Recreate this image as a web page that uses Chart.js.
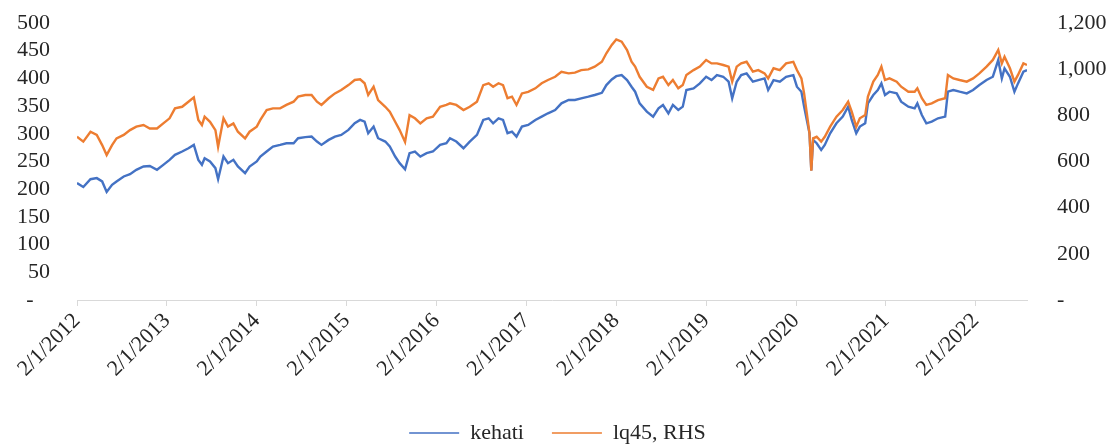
<!DOCTYPE html>
<html>
<head>
<meta charset="utf-8">
<script src="https://cdn.jsdelivr.net/npm/chart.js@4.4.1/dist/chart.umd.min.js"></script>
<style>
  html, body { margin: 0; padding: 0; background: #ffffff; }
  #wrap { width: 1115px; height: 446px; }
</style>
</head>
<body>
<div id="wrap"><canvas id="c" width="1115" height="446"></canvas></div>
<script>
// Trading dates as fractional years (2012.00 = 2/1/2012)
const dates = [
  2012.00, 2012.07, 2012.15, 2012.22, 2012.28, 2012.33, 2012.39, 2012.44, 2012.52, 2012.59,
  2012.66, 2012.74, 2012.81, 2012.89, 2012.96, 2013.03, 2013.09, 2013.17, 2013.24, 2013.30,
  2013.35, 2013.39, 2013.42, 2013.48, 2013.54, 2013.57, 2013.63, 2013.68, 2013.74, 2013.79,
  2013.87, 2013.92, 2014.00, 2014.04, 2014.11, 2014.18, 2014.26, 2014.33, 2014.41, 2014.46,
  2014.54, 2014.61, 2014.67, 2014.72, 2014.80, 2014.87, 2014.94, 2015.02, 2015.09, 2015.15,
  2015.20, 2015.24, 2015.30, 2015.35, 2015.43, 2015.48, 2015.54, 2015.59, 2015.65, 2015.70,
  2015.76, 2015.82, 2015.89, 2015.96, 2016.04, 2016.11, 2016.15, 2016.22, 2016.30, 2016.37,
  2016.45, 2016.52, 2016.58, 2016.63, 2016.69, 2016.74, 2016.79, 2016.84, 2016.89, 2016.95,
  2017.02, 2017.10, 2017.17, 2017.24, 2017.32, 2017.39, 2017.47, 2017.54, 2017.61, 2017.69,
  2017.76, 2017.84, 2017.89, 2017.95, 2018.00, 2018.06, 2018.12, 2018.17, 2018.21, 2018.26,
  2018.34, 2018.41, 2018.47, 2018.52, 2018.58, 2018.63, 2018.69, 2018.74, 2018.78, 2018.86,
  2018.93, 2019.00, 2019.06, 2019.12, 2019.19, 2019.25, 2019.29, 2019.34, 2019.39, 2019.45,
  2019.52, 2019.58, 2019.65, 2019.69, 2019.75, 2019.82, 2019.89, 2019.97, 2020.01, 2020.06,
  2020.09, 2020.12, 2020.15, 2020.17, 2020.19, 2020.23, 2020.28, 2020.32, 2020.38, 2020.45,
  2020.52, 2020.58, 2020.62, 2020.67, 2020.71, 2020.77, 2020.80, 2020.86, 2020.91, 2020.95,
  2020.99, 2021.04, 2021.12, 2021.17, 2021.25, 2021.32, 2021.35, 2021.40, 2021.45, 2021.51,
  2021.58, 2021.66, 2021.69, 2021.75, 2021.82, 2021.90, 2021.97, 2022.04, 2022.12, 2022.19,
  2022.25, 2022.29, 2022.32, 2022.38, 2022.43, 2022.47, 2022.53, 2022.57
];

// KEHATI index (left axis)
const kehati = [
  211, 204, 218, 220, 214, 195, 208, 214, 223, 227,
  235, 241, 242, 235, 244, 253, 262, 268, 274, 280,
  253, 244, 256, 250, 238, 218, 259, 247, 253, 241,
  229, 241, 250, 259, 268, 277, 280, 283, 283, 292,
  294, 295, 286, 280, 289, 295, 298, 307, 319, 325,
  322, 301, 313, 292, 286, 277, 259, 247, 236, 265,
  268, 259, 265, 268, 280, 283, 292, 286, 274, 286,
  298, 325, 328, 319, 328, 325, 301, 304, 295, 313,
  316, 325, 331, 337, 343, 355, 361, 361, 364, 367,
  370, 374, 388, 398, 404, 406, 397, 385, 376, 355,
  340, 331, 346, 352, 337, 352, 343, 349, 379, 382,
  391, 403, 397, 406, 403, 394, 364, 394, 406, 409,
  394, 397, 400, 379, 397, 394, 403, 406, 385, 376,
  349, 325, 301, 234, 289, 283, 271, 280, 301, 319,
  331, 349, 325, 301, 313, 319, 355, 370, 379, 391,
  370, 376, 373, 358, 349, 346, 355, 334, 319, 322,
  328, 331, 376, 379, 376, 373, 379, 388, 397, 403,
  433, 400, 418, 403, 376, 391, 412, 415
];

// LQ45 index (right axis)
const lq45 = [
  707, 686, 729, 715, 671, 628, 671, 700, 715, 736,
  751, 758, 743, 743, 765, 787, 830, 837, 859, 878,
  780, 758, 794, 772, 736, 664, 787, 751, 765, 729,
  700, 729, 751, 780, 823, 830, 830, 845, 859, 881,
  888, 888, 859, 845, 874, 895, 910, 931, 953, 956,
  939, 888, 924, 866, 837, 816, 772, 736, 685, 801,
  787, 765, 787, 794, 837, 845, 852, 845, 823, 837,
  859, 931, 939, 924, 939, 931, 874, 881, 845, 895,
  902, 917, 939, 953, 967, 989, 982, 985, 996, 999,
  1011, 1032, 1069, 1105, 1129, 1119, 1083, 1032, 1011, 967,
  924, 910, 960, 967, 931, 953, 917, 931, 975, 996,
  1011, 1040, 1025, 1025, 1018, 1011, 946, 1011, 1025, 1032,
  989, 996, 982, 960, 1004, 996, 1025, 1032, 996, 960,
  895, 809, 722, 560, 700, 707, 686, 707, 751, 794,
  823, 859, 816, 751, 787, 801, 881, 946, 975, 1011,
  953, 960, 946, 924, 902, 902, 917, 874, 845, 852,
  866, 874, 975, 960, 953, 946, 960, 982, 1011, 1040,
  1083, 1025, 1054, 1004, 946, 975, 1025, 1018
];

// Yearly tick positions on the date axis
const tickYears = [2012, 2013, 2014, 2015, 2016, 2017, 2018, 2019, 2020, 2021, 2022];

const seriesNames = ['kehati', 'lq45, RHS'];
const seriesColors = ['#4472C4', '#ED7D31'];

const FONT = "'Liberation Serif', 'Times New Roman', serif";
const TEXT = '#262626';
const AXIS = '#d9d9d9';

const toPoints = (vals) => dates.map((d, i) => ({ x: d, y: vals[i] }));

// Fixed-width value axis; the wide label gap should not push the plot area down
const fitValueAxis = (width) => (scale) => {
  scale.width = width;
  scale.paddingTop = 0;
  scale.paddingBottom = 0;
};

new Chart(document.getElementById('c'), {
  type: 'line',
  data: {
    datasets: [
      {
        label: seriesNames[0],
        data: toPoints(kehati),
        yAxisID: 'y',
        borderColor: seriesColors[0],
        backgroundColor: seriesColors[0],
        borderWidth: 2.4,
        pointRadius: 0,
        tension: 0,
        order: 1
      },
      {
        label: seriesNames[1],
        data: toPoints(lq45),
        yAxisID: 'y1',
        borderColor: seriesColors[1],
        backgroundColor: seriesColors[1],
        borderWidth: 2.4,
        pointRadius: 0,
        tension: 0,
        order: 0
      }
    ]
  },
  options: {
    responsive: false,
    animation: false,
    events: [],
    layout: { padding: { top: 23, left: 0, right: 0, bottom: -8 } },
    plugins: {
      tooltip: { enabled: false },
      legend: {
        position: 'bottom',
        labels: {
          font: { family: FONT, size: 22 },
          color: TEXT,
          boxWidth: 50,
          boxHeight: 0,
          padding: 28,
          generateLabels: (chart) => chart.data.datasets.map((ds, i) => ({
            text: ds.label,
            datasetIndex: i,
            fillStyle: ds.borderColor,
            strokeStyle: ds.borderColor,
            fontColor: TEXT,
            lineWidth: 1.5,
            hidden: false
          }))
        }
      }
    },
    scales: {
      x: {
        type: 'linear',
        min: dates[0],
        max: dates[dates.length - 1],
        afterBuildTicks: (scale) => { scale.ticks = tickYears.map(v => ({ value: v })); },
        afterFit: (scale) => { scale.height = 94; },
        grid: { display: true, drawOnChartArea: false, drawTicks: true, tickLength: 6, color: AXIS },
        border: { display: true, color: AXIS, width: 1 },
        ticks: {
          autoSkip: false,
          maxRotation: 45,
          minRotation: 45,
          padding: 2,
          color: TEXT,
          font: { family: FONT, size: 22 },
          callback: (v) => '2/1/' + v
        }
      },
      y: {
        position: 'left',
        min: 0,
        max: 500,
        afterFit: fitValueAxis(77),
        grid: { display: false, drawTicks: false },
        border: { display: false },
        ticks: {
          stepSize: 50,
          autoSkip: false,
          padding: 27,
          color: TEXT,
          font: { family: FONT, size: 22 },
          callback: (v) => (v === 0 ? '-   ' : String(v))
        }
      },
      y1: {
        position: 'right',
        min: 0,
        max: 1200,
        afterFit: fitValueAxis(88),
        grid: { display: false, drawTicks: false },
        border: { display: false },
        ticks: {
          stepSize: 200,
          autoSkip: false,
          padding: 30,
          color: TEXT,
          font: { family: FONT, size: 22 },
          callback: (v) => (v === 0 ? '-' : v.toLocaleString('en-US'))
        }
      }
    }
  }
});
</script>
</body>
</html>
